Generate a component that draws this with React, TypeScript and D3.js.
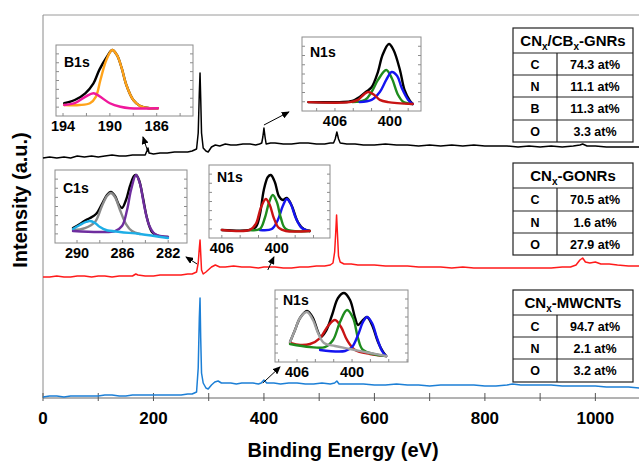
import { useEffect, useRef } from 'react';
import * as d3 from 'd3';

// survey spectra: [binding energy (eV), intensity (a.u.)]
const gnrSurvey = [
  [0, 24.0], [12, 24.1], [25, 24.0], [38, 24.1], [50, 24.0], [62, 24.2], [75, 24.1], [88, 24.2], [100, 24.1],
  [112, 24.2], [125, 24.3], [138, 24.2], [150, 24.2], [162, 24.3], [175, 24.3], [185, 24.3], [188, 24.7],
  [190, 25.0], [192, 24.5], [200, 24.4], [212, 24.5], [225, 24.5], [238, 24.6], [250, 24.6], [262, 24.6],
  [270, 24.7], [278, 24.9], [281, 26.5], [283, 30.5], [284.3, 32.5], [285.5, 30.0], [287, 26.5], [290, 25.0],
  [295, 24.7], [299, 24.6], [305, 25.1], [312, 25.3], [320, 25.2], [330, 25.4], [340, 25.3], [350, 25.3],
  [362, 25.4], [375, 25.4], [385, 25.3], [392, 25.4], [396, 25.5], [398, 26.1], [400, 27.0], [402, 26.1],
  [404, 25.4], [412, 25.5], [420, 25.5], [435, 25.4], [450, 25.4], [465, 25.5], [480, 25.5], [495, 25.4],
  [510, 25.4], [520, 25.5], [526, 25.5], [529, 25.9], [532, 26.6], [535, 25.9], [538, 25.5], [550, 25.4],
  [565, 25.4], [580, 25.3], [600, 25.3], [620, 25.4], [640, 25.3], [660, 25.3], [680, 25.2], [700, 25.3],
  [720, 25.2], [740, 25.3], [760, 25.2], [780, 25.3], [800, 25.2], [820, 25.2], [840, 25.2], [860, 25.1],
  [880, 25.2], [900, 25.1], [920, 25.2], [940, 25.1], [960, 25.2], [972, 25.3], [977, 25.4], [985, 25.2],
  [1000, 25.2], [1020, 25.1], [1040, 25.1], [1060, 25.1], [1080, 25.1],
];

const gonrSurvey = [
  [0, 12.1], [12, 12.1], [25, 12.2], [38, 12.1], [50, 12.1], [62, 12.2], [75, 12.2], [88, 12.1], [100, 12.2],
  [112, 12.2], [125, 12.1], [138, 12.2], [150, 12.2], [162, 12.2], [168, 12.4], [172, 12.3], [185, 12.2],
  [200, 12.2], [212, 12.3], [225, 12.3], [238, 12.3], [250, 12.3], [262, 12.4], [270, 12.4], [278, 12.6],
  [281, 13.5], [283, 15.0], [284.3, 15.8], [285.5, 14.5], [287, 12.8], [290, 12.4], [295, 12.6], [305, 13.1],
  [312, 13.3], [320, 13.1], [330, 13.1], [345, 13.2], [360, 13.1], [375, 13.1], [390, 13.0], [400, 13.1],
  [410, 13.1], [420, 13.1], [435, 13.0], [450, 13.0], [465, 13.1], [480, 13.1], [495, 13.2], [510, 13.2],
  [520, 13.3], [525, 13.5], [528, 14.6], [530, 16.6], [531.5, 18.3], [533, 16.5], [535, 14.2], [538, 13.6],
  [545, 13.4], [558, 13.4], [570, 13.3], [585, 13.3], [600, 13.3], [620, 13.2], [640, 13.2], [660, 13.2],
  [680, 13.1], [700, 13.1], [720, 13.1], [740, 13.0], [760, 13.1], [780, 13.0], [800, 13.0], [820, 13.0],
  [840, 13.0], [860, 13.0], [880, 13.0], [900, 13.0], [920, 13.0], [940, 13.1], [955, 13.1], [965, 13.3],
  [972, 13.8], [977, 14.0], [982, 13.6], [990, 13.5], [1000, 13.6], [1010, 13.4], [1025, 13.4], [1040, 13.3],
  [1060, 13.2], [1080, 13.2],
];

const mwcntSurvey = [
  [0, 0.1], [12, 0.2], [25, 0.2], [38, 0.1], [50, 0.2], [62, 0.2], [75, 0.2], [88, 0.2], [100, 0.2],
  [112, 0.3], [125, 0.3], [138, 0.2], [150, 0.2], [162, 0.3], [175, 0.3], [188, 0.3], [200, 0.3],
  [212, 0.3], [225, 0.3], [238, 0.3], [250, 0.3], [262, 0.4], [270, 0.4], [278, 0.6], [281, 3.0],
  [283, 8.0], [284.3, 10.0], [285.5, 6.0], [287, 2.5], [290, 1.5], [295, 1.0], [299, 0.9], [305, 1.3],
  [311, 1.6], [317, 1.7], [323, 1.5], [332, 1.5], [340, 1.5], [350, 1.4], [360, 1.5], [370, 1.5],
  [380, 1.5], [390, 1.4], [395, 1.5], [400, 1.8], [405, 1.5], [418, 1.5], [430, 1.4], [445, 1.5],
  [460, 1.5], [475, 1.4], [490, 1.4], [505, 1.5], [520, 1.4], [528, 1.5], [532, 1.7], [536, 1.4],
  [550, 1.4], [565, 1.4], [580, 1.4], [600, 1.3], [620, 1.3], [640, 1.4], [660, 1.3], [680, 1.3],
  [700, 1.2], [720, 1.3], [740, 1.3], [760, 1.3], [780, 1.3], [800, 1.2], [820, 1.2], [840, 1.3],
  [850, 1.4], [865, 1.3], [880, 1.3], [900, 1.3], [920, 1.3], [940, 1.2], [960, 1.2], [980, 1.2],
  [1000, 1.2], [1020, 1.1], [1040, 1.1], [1060, 1.1], [1080, 1.0],
];

const xTicks = [0, 200, 400, 600, 800, 1000];
const xMinorTicks = [100, 300, 500, 700, 900];

// arrows from peaks to insets: [tail eV, tail I, head eV, head I]
const arrowLinks = [
  [190, 24.6, 181, 26.1],
  [400, 27.3, 445, 28.6],
  [279, 13.4, 259, 14.1],
  [407, 12.8, 418, 14.1],
  [398, 1.5, 429, 3.1],
];

// B1s inset (CNx/CBx-GNRs)
const b1sTotal = [[193.9, 0.18], [193.0, 0.225], [192.1, 0.32], [191.4, 0.46], [190.9, 0.65], [190.3, 0.82], [189.8, 0.93], [189.4, 0.86], [189.0, 0.68], [188.6, 0.44], [188.0, 0.225], [187.4, 0.14], [186.6, 0.11], [185.9, 0.11]];
const b1sMain = [[193.9, 0.155], [192.6, 0.155], [191.7, 0.18], [191.2, 0.27], [190.8, 0.51], [190.3, 0.79], [189.8, 0.93], [189.4, 0.86], [189.0, 0.68], [188.6, 0.44], [188.0, 0.225], [187.4, 0.14], [186.6, 0.11], [185.9, 0.11]];
const b1sSide = [[193.9, 0.155], [193.0, 0.18], [192.1, 0.27], [191.4, 0.32], [190.9, 0.28], [190.0, 0.18], [189.1, 0.13], [188.3, 0.11], [185.9, 0.11]];

// N1s inset (CNx/CBx-GNRs)
const n1sGnrTotal = [[408.9, 0.12], [405.5, 0.12], [404.1, 0.135], [403.3, 0.19], [402.6, 0.26], [402.0, 0.32], [401.3, 0.53], [400.8, 0.757], [400.1, 0.905], [399.6, 0.824], [398.9, 0.554], [398.4, 0.284], [397.8, 0.135], [397.5, 0.095]];
const n1sGnrRed = [[408.9, 0.12], [404.4, 0.12], [403.5, 0.15], [402.9, 0.216], [402.4, 0.257], [401.7, 0.216], [401.1, 0.15], [400.2, 0.12], [397.5, 0.095]];
const n1sGnrGreen = [[404.1, 0.12], [402.7, 0.15], [402.0, 0.257], [401.3, 0.42], [400.4, 0.554], [399.8, 0.446], [399.1, 0.216], [398.5, 0.12], [397.5, 0.095]];
const n1sGnrBlue = [[403.3, 0.12], [402.0, 0.15], [401.1, 0.257], [400.4, 0.42], [399.8, 0.527], [399.2, 0.473], [398.7, 0.31], [398.0, 0.15], [397.5, 0.095]];

// C1s inset (CNx-GONRs)
const c1sTotal = [[290.35, 0.205], [289.74, 0.26], [289.21, 0.315], [288.86, 0.342], [288.33, 0.397], [287.81, 0.534], [287.37, 0.658], [287.02, 0.699], [286.67, 0.644], [286.32, 0.521], [286.05, 0.479], [285.70, 0.589], [285.35, 0.781], [285.0, 0.918], [284.82, 0.932], [284.56, 0.863], [284.21, 0.616], [283.86, 0.342], [283.42, 0.151], [282.89, 0.096], [282.02, 0.082]];
const c1sGray = [[290.35, 0.178], [289.3, 0.205], [288.42, 0.288], [287.81, 0.507], [287.37, 0.644], [287.02, 0.685], [286.67, 0.63], [286.23, 0.452], [285.70, 0.26], [285.18, 0.164], [284.47, 0.123]];
const c1sPurple = [[290.35, 0.164], [287.98, 0.151], [286.67, 0.164], [286.05, 0.233], [285.61, 0.452], [285.26, 0.726], [284.82, 0.932], [284.47, 0.808], [284.12, 0.521], [283.68, 0.247], [283.16, 0.123], [282.02, 0.082]];
const c1sCyan = [[290.35, 0.192], [289.74, 0.247], [289.21, 0.288], [288.86, 0.301], [288.42, 0.274], [287.98, 0.219], [287.46, 0.178], [286.23, 0.151], [284.47, 0.123], [282.02, 0.068]];

// N1s inset (CNx-GONRs)
const n1sGonrTotal = [[406, 0.11], [402.95, 0.11], [402.29, 0.151], [401.86, 0.315], [401.42, 0.658], [400.98, 0.836], [400.66, 0.863], [400.22, 0.767], [399.78, 0.575], [399.35, 0.521], [398.91, 0.548], [398.36, 0.438], [397.71, 0.219], [397.06, 0.123], [396.40, 0.096]];
const n1sGonrRed = [[406, 0.11], [402.95, 0.11], [402.29, 0.192], [401.75, 0.411], [401.20, 0.534], [400.77, 0.452], [400.33, 0.274], [399.78, 0.137], [399.02, 0.096], [396.40, 0.096]];
const n1sGonrGreen = [[402.95, 0.11], [401.86, 0.123], [401.31, 0.274], [400.87, 0.479], [400.44, 0.589], [400.0, 0.493], [399.56, 0.274], [399.02, 0.123], [396.40, 0.096]];
const n1sGonrBlue = [[401.86, 0.11], [400.55, 0.123], [399.89, 0.247], [399.35, 0.438], [398.91, 0.534], [398.48, 0.466], [397.93, 0.274], [397.28, 0.137], [396.40, 0.096]];

// N1s inset (CNx-MWCNTs)
const n1sCntTotal = [[406.76, 0.278], [406.22, 0.444], [405.67, 0.611], [404.91, 0.708], [404.26, 0.611], [403.71, 0.417], [403.38, 0.347], [402.84, 0.431], [402.18, 0.653], [401.53, 0.889], [400.87, 0.958], [400.22, 0.861], [399.67, 0.611], [399.35, 0.514], [398.91, 0.569], [398.37, 0.625], [397.82, 0.514], [397.17, 0.278], [396.62, 0.139], [396.29, 0.083]];
const n1sCntRed = [[406.76, 0.264], [405.67, 0.236], [404.58, 0.25], [403.49, 0.333], [402.62, 0.5], [401.86, 0.583], [401.2, 0.486], [400.55, 0.306], [399.67, 0.167], [398.04, 0.111], [396.29, 0.083]];
const n1sCntGreen = [[406.76, 0.25], [404.58, 0.208], [402.95, 0.208], [402.07, 0.306], [401.31, 0.556], [400.55, 0.722], [399.89, 0.611], [399.35, 0.333], [398.80, 0.167], [396.29, 0.083]];
const n1sCntBlue = [[403.49, 0.167], [400.76, 0.153], [400.0, 0.208], [399.35, 0.375], [398.80, 0.556], [398.37, 0.625], [397.82, 0.542], [397.28, 0.333], [396.73, 0.153], [396.29, 0.083]];
const n1sCntGray = [[406.76, 0.278], [406.22, 0.444], [405.67, 0.611], [404.91, 0.694], [404.26, 0.583], [403.71, 0.403], [403.06, 0.264], [401.86, 0.222], [400.22, 0.181], [398.04, 0.125], [396.29, 0.083]];

// composition tables
const gnrRows = [['C', '74.3 at%'], ['N', '11.1 at%'], ['B', '11.3 at%'], ['O', '3.3 at%']];
const gonrRows = [['C', '70.5 at%'], ['N', '1.6 at%'], ['O', '27.9 at%']];
const mwcntRows = [['C', '94.7 at%'], ['N', '2.1 at%'], ['O', '3.2 at%']];

const FONT = "Arial, 'Liberation Sans', sans-serif";

const XpsSurveyChart = () => {
  const svgRef = useRef(null);

  useEffect(() => {
    document.body.style.margin = '0';
    const svg = d3.select(svgRef.current);
    svg.selectAll('*').remove();

    const x = d3.scaleLinear().domain([0, 1079]).range([43, 639]);
    const y = d3.scaleLinear().domain([0, 38.3]).range([398, 15]);

    // arrow head
    svg
      .append('defs')
      .append('marker')
      .attr('id', 'arrowHead')
      .attr('markerUnits', 'userSpaceOnUse')
      .attr('markerWidth', 8)
      .attr('markerHeight', 7)
      .attr('refX', 7)
      .attr('refY', 3.5)
      .attr('orient', 'auto')
      .append('path')
      .attr('d', 'M0,0 L8,3.5 L0,7 Z')
      .attr('fill', '#000');

    // frame
    svg.append('line').attr('x1', 43).attr('x2', 639).attr('y1', 15).attr('y2', 15).attr('stroke', '#9a9a9a');
    svg.append('line').attr('x1', 43).attr('x2', 43).attr('y1', 15).attr('y2', 398).attr('stroke', '#8a8a8a');
    svg.append('line').attr('x1', 43).attr('x2', 639).attr('y1', 398).attr('y2', 398).attr('stroke', '#666');

    xMinorTicks.concat(xTicks).forEach((t) => {
      svg
        .append('line')
        .attr('x1', x(t))
        .attr('x2', x(t))
        .attr('y1', 393)
        .attr('y2', 401)
        .attr('stroke', '#555');
    });

    svg
      .selectAll('.x-label')
      .data(xTicks)
      .enter()
      .append('text')
      .attr('x', (d) => x(d))
      .attr('y', 424)
      .attr('text-anchor', 'middle')
      .style('font-family', FONT)
      .style('font-weight', 'bold')
      .style('font-size', '17px')
      .text((d) => d);

    svg
      .append('text')
      .attr('x', 343)
      .attr('y', 457)
      .attr('text-anchor', 'middle')
      .style('font-family', FONT)
      .style('font-weight', 'bold')
      .style('font-size', '20px')
      .text('Binding Energy (eV)');

    svg
      .append('text')
      .attr('transform', 'translate(27,200) rotate(-90)')
      .attr('text-anchor', 'middle')
      .style('font-family', FONT)
      .style('font-weight', 'bold')
      .style('font-size', '20px')
      .text('Intensity (a.u.)');

    // survey spectra
    const line = d3
      .line()
      .x((d) => x(d[0]))
      .y((d) => y(d[1]));

    [
      [gnrSurvey, '#000000'],
      [gonrSurvey, '#ff1a1a'],
      [mwcntSurvey, '#1c7fd6'],
    ].forEach(([data, color]) => {
      svg
        .append('path')
        .datum(data)
        .attr('d', line)
        .attr('fill', 'none')
        .attr('stroke', color)
        .attr('stroke-width', 1.5)
        .attr('stroke-linejoin', 'round');
    });

    arrowLinks.forEach((a) => {
      svg
        .append('line')
        .attr('x1', x(a[0]))
        .attr('y1', y(a[1]))
        .attr('x2', x(a[2]))
        .attr('y2', y(a[3]))
        .attr('stroke', '#000')
        .attr('stroke-width', 1)
        .attr('marker-end', 'url(#arrowHead)');
    });

    // insets
    const drawInset = (box, domain, ticks, labels, title, titleDy, curves) => {
      const g = svg.append('g');
      const ix = d3.scaleLinear().domain(domain).range([box.x, box.x + box.w]);
      const iy = d3.scaleLinear().domain([0, 1]).range([box.y + box.h, box.y]);

      g.append('rect')
        .attr('x', box.x)
        .attr('y', box.y)
        .attr('width', box.w)
        .attr('height', box.h)
        .attr('fill', '#fff')
        .attr('stroke', '#8c8c8c')
        .attr('stroke-width', 1);

      ticks.forEach((t) => {
        g.append('line')
          .attr('x1', ix(t))
          .attr('x2', ix(t))
          .attr('y1', box.y + box.h)
          .attr('y2', box.y + box.h - 3)
          .attr('stroke', '#8c8c8c');
      });
      [0.125, 0.25, 0.375, 0.5, 0.625, 0.75, 0.875].forEach((t) => {
        g.append('line')
          .attr('x1', box.x)
          .attr('x2', box.x + 3)
          .attr('y1', iy(t))
          .attr('y2', iy(t))
          .attr('stroke', '#8c8c8c');
        g.append('line')
          .attr('x1', box.x + box.w)
          .attr('x2', box.x + box.w - 3)
          .attr('y1', iy(t))
          .attr('y2', iy(t))
          .attr('stroke', '#8c8c8c');
      });

      labels.forEach((t) => {
        g.append('text')
          .attr('x', ix(t))
          .attr('y', box.y + box.h + 15)
          .attr('text-anchor', 'middle')
          .style('font-family', FONT)
          .style('font-weight', 'bold')
          .style('font-size', '14.5px')
          .text(t);
      });

      g.append('text')
        .attr('x', box.x + 8)
        .attr('y', box.y + titleDy)
        .style('font-family', FONT)
        .style('font-weight', 'bold')
        .style('font-size', '14px')
        .text(title);

      const curve = d3
        .line()
        .x((d) => ix(d[0]))
        .y((d) => iy(d[1]))
        .curve(d3.curveCatmullRom);

      curves.forEach(([data, color]) => {
        g.append('path')
          .datum(data)
          .attr('d', curve)
          .attr('fill', 'none')
          .attr('stroke', color)
          .attr('stroke-width', 2.4)
          .attr('stroke-linecap', 'round');
      });
    };

    drawInset({ x: 56, y: 45, w: 137, h: 71 }, [194.6, 182.9], [194, 192, 190, 188, 186, 184], [194, 190, 186], 'B1s', 22, [
      [b1sTotal, '#000'],
      [b1sMain, '#ffa31a'],
      [b1sSide, '#f0189c'],
    ]);
    drawInset({ x: 302, y: 37, w: 119, h: 74 }, [409.6, 396.6], [408, 406, 404, 402, 400, 398], [406, 400], 'N1s', 20, [
      [n1sGnrTotal, '#000'],
      [n1sGnrGreen, '#1e8c1e'],
      [n1sGnrBlue, '#1414f0'],
      [n1sGnrRed, '#c81414'],
    ]);
    drawInset({ x: 55, y: 170, w: 132, h: 73 }, [291.93, 280.35], [290, 288, 286, 284, 282], [290, 286, 282], 'C1s', 23, [
      [c1sTotal, '#000'],
      [c1sGray, '#8a8a8a'],
      [c1sPurple, '#6e2d9e'],
      [c1sCyan, '#1eaee6'],
    ]);
    drawInset({ x: 209, y: 165, w: 121, h: 73 }, [407.4, 394.2], [406, 404, 402, 400, 398, 396], [406, 400], 'N1s', 17, [
      [n1sGonrTotal, '#000'],
      [n1sGonrBlue, '#1414f0'],
      [n1sGonrGreen, '#1e8c1e'],
      [n1sGonrRed, '#c81414'],
    ]);
    drawInset({ x: 275, y: 290, w: 133, h: 72 }, [408.4, 393.9], [408, 406, 404, 402, 400, 398, 396, 394], [406, 400], 'N1s', 15, [
      [n1sCntTotal, '#000'],
      [n1sCntRed, '#c81414'],
      [n1sCntGreen, '#1e8c1e'],
      [n1sCntBlue, '#1414f0'],
      [n1sCntGray, '#a0a0a0'],
    ]);

    // composition tables
    const drawTable = (top, rowYs, header, rows) => {
      const g = svg.append('g');
      const left = 513;
      const right = 633;
      const mid = 557;
      const bottom = rowYs[rowYs.length - 1];
      g.append('rect')
        .attr('x', left)
        .attr('y', top)
        .attr('width', right - left)
        .attr('height', bottom - top)
        .attr('fill', '#fff')
        .attr('stroke', '#222')
        .attr('stroke-width', 1.2);
      rowYs.slice(0, -1).forEach((ry) => {
        g.append('line').attr('x1', left).attr('x2', right).attr('y1', ry).attr('y2', ry).attr('stroke', '#222').attr('stroke-width', 1.2);
      });
      g.append('line').attr('x1', mid).attr('x2', mid).attr('y1', rowYs[0]).attr('y2', bottom).attr('stroke', '#222').attr('stroke-width', 1.2);

      const head = g
        .append('text')
        .attr('x', (left + right) / 2)
        .attr('y', (top + rowYs[0]) / 2 + 5.5)
        .attr('text-anchor', 'middle')
        .style('font-family', FONT)
        .style('font-weight', 'bold')
        .style('font-size', '15px');
      // subscripts shift down, the next normal segment shifts back up
      let shift = 0;
      header.forEach(([txt, sub]) => {
        head.append('tspan').attr('dy', -shift).text(txt);
        shift = 0;
        if (sub) {
          head.append('tspan').attr('dy', 4).style('font-size', '10px').text(sub);
          shift = 4;
        }
      });

      rows.forEach((r, i) => {
        const cy = (rowYs[i] + rowYs[i + 1]) / 2 + 4.5;
        g.append('text')
          .attr('x', (left + mid) / 2)
          .attr('y', cy)
          .attr('text-anchor', 'middle')
          .style('font-family', FONT)
          .style('font-weight', 'bold')
          .style('font-size', '12.5px')
          .text(r[0]);
        g.append('text')
          .attr('x', (mid + right) / 2)
          .attr('y', cy)
          .attr('text-anchor', 'middle')
          .style('font-family', FONT)
          .style('font-weight', 'bold')
          .style('font-size', '12.5px')
          .text(r[1]);
      });
    };

    drawTable(28, [53, 75, 97, 120, 142], [['CN', 'x'], ['/CB', 'x'], ['-GNRs', null]], gnrRows);
    drawTable(163, [188, 211, 233, 255], [['CN', 'x'], ['-GONRs', null]], gonrRows);
    drawTable(290, [315, 337, 359, 382], [['CN', 'x'], ['-MWCNTs', null]], mwcntRows);
  }, []);

  return <svg ref={svgRef} width={639} height={462} style={{ display: 'block', background: '#fff' }} />;
};

export default function App() {
  return <XpsSurveyChart />;
}
